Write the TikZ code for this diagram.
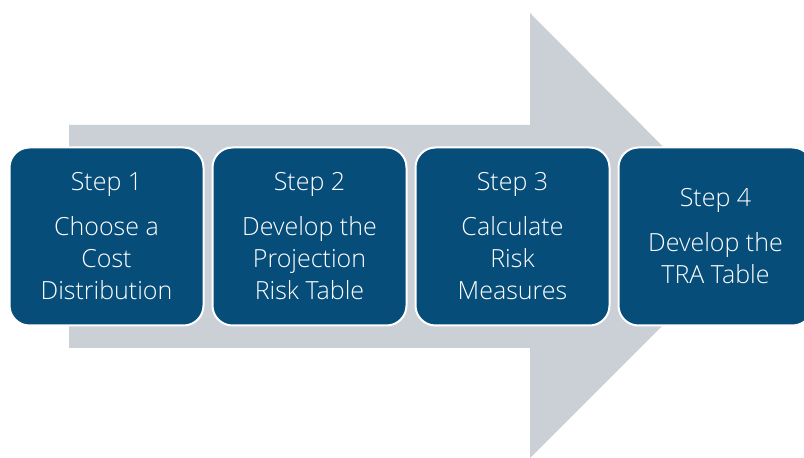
\documentclass[tikz,border=0pt]{standalone}
\usepackage{fontspec}
\setmainfont{Open Sans}[UprightFont=* Light]
\definecolor{stepblue}{RGB}{6,77,122}
\definecolor{arrowgray}{RGB}{203,208,214}
\tikzset{stepbox/.style={fill=stepblue,draw=white,line width=2pt,rounded corners=20pt,
  minimum width=194pt,minimum height=178pt,text=white,align=center,
  font=\fontsize{25}{32}\selectfont}}

\begin{document}
\begin{tikzpicture}[x=1pt,y=1pt]
	\useasboundingbox (0,0) rectangle (804,458);
	\fill[arrowgray] (69,110) -- (69,333) -- (530,333) -- (530,445) -- (752,222)
		-- (530,0) -- (530,110) -- cycle;
	\node[stepbox] (step1) at (106.5,221.5){Step 1\\[13pt]Choose a\\Cost\\Distribution};
	\node[stepbox] (step2) at (309.5,221.5){Step 2\\[13pt]Develop the\\Projection\\Risk Table};
	\node[stepbox] (step3) at (512.5,221.5){Step 3\\[13pt]Calculate\\Risk\\Measures};
	\node[stepbox] (step4) at (715.5,221.5){Step 4\\[13pt]Develop the\\TRA Table};
\end{tikzpicture}
\end{document}
